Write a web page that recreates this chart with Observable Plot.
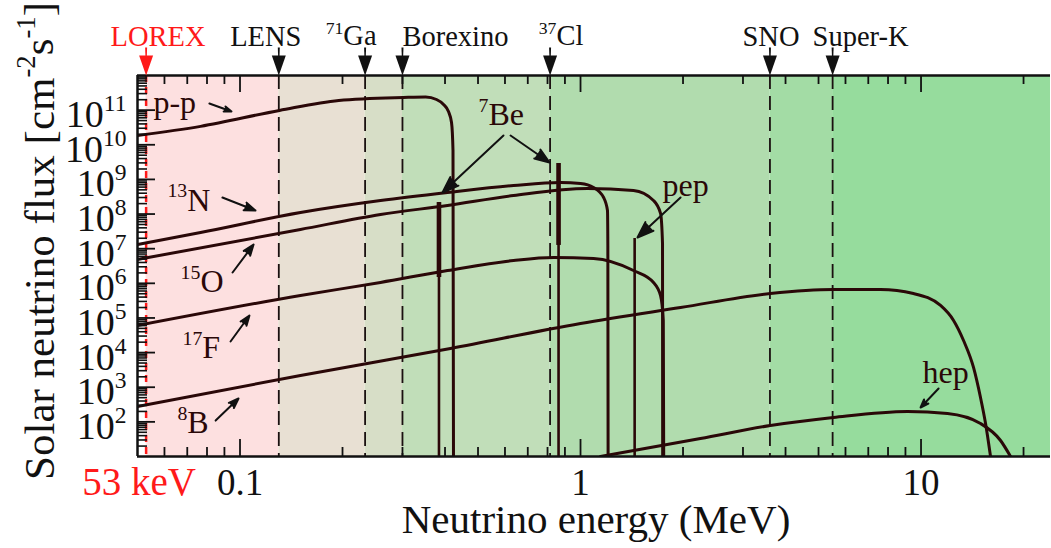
<!DOCTYPE html>
<html>
<head>
<meta charset="utf-8">
<script src="https://cdn.jsdelivr.net/npm/d3@7"></script>
<script src="https://cdn.jsdelivr.net/npm/@observablehq/plot@0.6"></script>
<style>
  html, body { margin: 0; padding: 0; background: #fff; }
  #chart svg { display: block; }
  #chart svg, #chart svg text, #chart svg tspan {
    font-family: "Liberation Serif", "Times New Roman", Times, "DejaVu Serif", serif !important;
  }
</style>
</head>
<body>
<div id="chart"></div>
<script>
// Solar neutrino spectra: energy in MeV, flux in cm^-2 s^-1 (MeV^-1 for the continua)
const ppSpectrum = [[0.05,1.86e10],[0.0766,3.4e10],[0.1306,9.8e10],[0.195,1.9e11],[0.302,2.32e11],[0.351,2.4e11],[0.3776,2.03e11],[0.396,1.46e11],[0.4095,9.1e10],[0.418,4.4e10],[0.4222,6.8e9],[0.4236,10]];
const n13Spectrum = [[0.05,1.32e7],[0.0766,2.93e7],[0.1505,1.11e8],[0.2586,2.46e8],[0.4068,4.19e8],[0.636,6.67e8],[0.8736,8.15e8],[1.0,7.6e8],[1.092,5.84e8],[1.169,3.0e8],[1.2,1.27e8],[1.203,1.24e7],[1.205,10]];
const o15Spectrum = [[0.05,4.88e6],[0.1505,3.58e7],[0.2586,9.7e7],[0.4068,1.77e8],[0.636,3.43e8],[1.048,5.47e8],[1.431,4.79e8],[1.638,2.46e8],[1.718,1.04e8],[1.741,1.41e7],[1.743,10]];
const f17Spectrum = [[0.05,6.05e4],[0.1505,4.45e5],[0.2586,1.06e6],[0.4068,2.34e6],[0.636,4.56e6],[0.833,5.56e6],[1.092,5.2e6],[1.431,2.34e6],[1.638,1.06e6],[1.718,4.45e5],[1.75,8.45e4],[1.755,10]];
const b8Spectrum = [[0.05,278],[0.1505,2180],[0.415,1.31e4],[1.0,6.92e4],[1.967,2.0e5],[3.61,5.08e5],[5.53,6.64e5],[7.6,6.64e5],[9.5,5.08e5],[11.41,2.29e5],[12.46,8.45e4],[13.33,2.23e4],[14.26,3.72e3],[14.95,505],[15.47,89.8],[16.0,10]];
const hepSpectrum = [[1.145,10],[2.25,33],[3.61,78.5],[5.53,134],[9.13,199],[11.96,174],[14.95,89.8],[17.12,29],[18.32,10]];

// Mono-energetic lines: energy, peak flux, and where the broadened core ends
const lineEnergies = [0.384, 0.862, 1.442];
const lineTops = [2.15e8, 2.88e9, 1.97e7];
const lineCores = [1.47e6, 1.24e7, null];

// Detector thresholds (MeV)
const detectorNames = ["LOREX", "LENS", "^{71}Ga", "Borexino", "^{37}Cl", "SNO", "Super-K"];
const detectorThresholds = [0.053, 0.13, 0.233, 0.30, 0.814, 3.6, 5.5];

// Axes
const xDomain = [0.05, 24];
const yDomain = [10, 1e12];
const xMajorTicks = [0.1, 1, 10];
const xMajorLabels = ["0.1", "1", "10"];
const xMinorTicks = [0.06, 0.07, 0.08, 0.09, 0.2, 0.3, 0.4, 0.5, 0.6, 0.7, 0.8, 0.9, 2, 3, 4, 5, 6, 7, 8, 9, 20];
const yMajorTicks = [1e2, 1e3, 1e4, 1e5, 1e6, 1e7, 1e8, 1e9, 1e10, 1e11];
const yMinorMantissas = [2, 3, 4, 5, 6, 7, 8, 9];
const yMinorDecades = [1e1, 1e2, 1e3, 1e4, 1e5, 1e6, 1e7, 1e8, 1e9, 1e10, 1e11];

// Spectrum labels (anchored at the left end of the text baseline)
const noteLabels = ["p-p", "^{7}Be", "^{13}N", "^{15}O", "^{17}F", "^{8}B", "pep", "hep"];
const noteEnergies = [0.0557, 0.502, 0.0612, 0.0669, 0.0678, 0.0655, 1.741, 10.1];
const noteFluxes = [8.0e10, 3.6e10, 1.26e8, 5.43e5, 6.75e3, 46.1, 3.43e8, 1282];

// Pointer arrows: start (E1, F1) -> tip (E2, F2)
const pointerE1 = [0.0813, 0.594, 0.623, 0.0888, 0.0951, 0.0938, 0.0848, 1.967, 11.26];
const pointerF1 = [1.556e11, 1.854e10, 1.854e10, 3.0e8, 2.05e6, 2.09e4, 109, 3.0e8, 918];
const pointerE2 = [0.0944, 0.3933, 0.811, 0.111, 0.1096, 0.1066, 0.099, 1.47, 9.97];
const pointerF2 = [9.14e10, 4.19e8, 3.08e9, 1.265e8, 1.32e7, 1.18e5, 473, 2.1e7, 260];

// ---- tables built from the arrays above ----
const spectra = [
  ["pp", ppSpectrum], ["13N", n13Spectrum], ["15O", o15Spectrum],
  ["17F", f17Spectrum], ["8B", b8Spectrum], ["hep", hepSpectrum]
].flatMap(([source, pts]) => pts.map(([E, F]) => ({source, E, F})));

const lines = lineEnergies.map((E, i) => ({E, top: lineTops[i], core: lineCores[i]}));
const detectors = detectorNames.map((name, i) => ({name, E: detectorThresholds[i]}));
const bandEdges = [...detectorThresholds, xDomain[1]];
const bands = detectorThresholds.map((from, i) => ({from, to: bandEdges[i + 1]}));
const notes = noteLabels.map((label, i) => ({label, E: noteEnergies[i], F: noteFluxes[i]}));
const pointers = pointerE1.map((E1, i) => ({E1, F1: pointerF1[i], E2: pointerE2[i], F2: pointerF2[i]}));
const yMinorTicks = yMinorDecades.flatMap(d => yMinorMantissas.map(m => m * d));
const xMajor = xMajorTicks.map((E, i) => ({E, label: xMajorLabels[i]}));

// ---- drawing ----
const W = 1051, H = 548;
const M = {top: 75, right: 1, bottom: 92, left: 137};
const frameW = W - M.left - M.right;
const frameH = H - M.top - M.bottom;
const serif = '"Liberation Serif", "Times New Roman", Times, serif';
const ink = "#2a0808";
const bandColors = ["#fde0e0", "#e8e0d3", "#d7dec7", "#c1deb9", "#b1dcae", "#a3dca5", "#96dc9d"];
// horizontal offset of each detector name from its arrow
const nameShift = [12, -13, -14, 53, 11, 1, 28];

const marks = [
  // sensitivity bands
  ...bands.map((b, i) => Plot.rect([b], {x1: "from", x2: "to", fill: bandColors[i]})),
  // threshold markers
  Plot.ruleX(detectors.slice(0, 1), {x: "E", stroke: "#ff1a1a", strokeWidth: 2.5, strokeDasharray: "7,5"}),
  Plot.ruleX(detectors.slice(1), {x: "E", stroke: "#1a1010", strokeWidth: 1.8, strokeDasharray: "14,7"}),
  // continuum spectra
  Plot.line(spectra, {x: "E", y: "F", z: "source", stroke: ink, strokeWidth: 3, curve: "monotone-x", clip: true}),
  // line spectra
  Plot.ruleX(lines, {x: "E", y1: "top", y2: yDomain[0], stroke: ink, strokeWidth: 2.6}),
  Plot.ruleX(lines.filter(d => d.core), {x: "E", y1: "top", y2: "core", stroke: ink, strokeWidth: 4.6}),
  // ticks
  Plot.tickX(xMinorTicks, {x: d => d, insetTop: frameH - 9, stroke: "#111", strokeWidth: 1.8}),
  Plot.tickX(xMinorTicks, {x: d => d, insetBottom: frameH - 9, stroke: "#111", strokeWidth: 1.8}),
  Plot.tickX(xMajorTicks, {x: d => d, insetTop: frameH - 17, stroke: "#111", strokeWidth: 1.8}),
  Plot.tickX(xMajorTicks, {x: d => d, insetBottom: frameH - 17, stroke: "#111", strokeWidth: 1.8}),
  Plot.tickY(yMinorTicks, {y: d => d, insetRight: frameW - 10, stroke: "#111", strokeWidth: 1.6}),
  Plot.tickY(yMajorTicks, {y: d => d, insetRight: frameW - 18, stroke: "#111", strokeWidth: 1.8}),
  // frame
  Plot.ruleY(yDomain, {stroke: "#111", strokeWidth: 2.5}),
  Plot.ruleX([xDomain[0]], {stroke: "#111", strokeWidth: 2.5}),
  // tick labels
  Plot.text(xMajor, {x: "E", text: "label", frameAnchor: "bottom", dy: 38, lineAnchor: "bottom",
    fontSize: 37, fontFamily: serif, fill: "#111"}),
  Plot.text(detectors.slice(0, 1), {x: "E", text: () => "53 keV", frameAnchor: "bottom", dx: -7, dy: 38,
    lineAnchor: "bottom", fontSize: 39, fontFamily: serif, fill: "#ff1a1a"}),
  Plot.text(yMajorTicks, {y: d => d, text: d => `10^{${Math.round(Math.log10(d))}}`, frameAnchor: "left",
    textAnchor: "end", dx: -11, dy: 17, lineAnchor: "bottom", fontSize: 38, fontFamily: serif, fill: "#111"}),
  // axis titles
  Plot.text(["Neutrino energy (MeV)"], {text: d => d, frameAnchor: "bottom", textAnchor: "middle", dx: 2, dy: 76,
    lineAnchor: "bottom", fontSize: 41, fontFamily: serif, fill: "#111"}),
  Plot.text(["Solar neutrino flux [cm^{-2}s^{-1}]"], {text: d => d, frameAnchor: "left", textAnchor: "middle",
    rotate: -90, dx: -84, dy: -25, lineAnchor: "bottom", fontSize: 43, fontFamily: serif, fill: "#111"}),
  // detector arrows and names above the frame
  ...detectors.map((d, i) => {
    const color = i === 0 ? "#ff1a1a" : "#111";
    return [
      Plot.vector([d], {x: "E", frameAnchor: "top", anchor: "end", rotate: 180, length: 28,
        shape: "spike", r: 1, fill: color, stroke: "none"}),
      Plot.vector([d], {x: "E", frameAnchor: "top", anchor: "end", rotate: 180, length: 20,
        shape: "spike", r: 7, fill: color, stroke: "none"}),
      Plot.text([d], {x: "E", text: "name", frameAnchor: "top", textAnchor: "middle", dx: nameShift[i], dy: -30,
        lineAnchor: "bottom", fontSize: 28.5, fontFamily: serif, fill: color})
    ];
  }).flat(),
  // spectrum labels and pointers
  Plot.text(notes, {x: "E", y: "F", text: "label", textAnchor: "start", lineAnchor: "bottom",
    fontSize: 32, fontFamily: serif, fill: ink}),
  Plot.arrow(pointers, {x1: "E1", y1: "F1", x2: "E2", y2: "F2", stroke: "#111", fill: "#111",
    strokeWidth: 2, headLength: 13, headAngle: 40})
];

const svg = Plot.plot({
  width: W, height: H,
  marginTop: M.top, marginRight: M.right, marginBottom: M.bottom, marginLeft: M.left,
  style: {fontFamily: serif, background: "white"},
  x: {type: "log", domain: xDomain, axis: null},
  y: {type: "log", domain: yDomain, axis: null},
  marks
});

// Turn ^{...} markup into raised, smaller tspans
const SVGNS = "http://www.w3.org/2000/svg";
for (const t of svg.querySelectorAll("text")) {
  const s = t.textContent;
  if (!s.includes("^{")) continue;
  const parts = s.split(/(\^\{[^}]*\})/).filter(Boolean);
  t.textContent = "";
  let raised = false;
  for (const p of parts) {
    const span = document.createElementNS(SVGNS, "tspan");
    if (p.startsWith("^{")) {
      span.textContent = p.slice(2, -1);
      span.setAttribute("font-size", "0.62em");
      span.setAttribute("dy", "-0.68em");
      raised = true;
    } else {
      span.textContent = p;
      if (raised) span.setAttribute("dy", "0.42em");
      raised = false;
    }
    t.appendChild(span);
  }
}

document.getElementById("chart").appendChild(svg);
</script>
</body>
</html>
